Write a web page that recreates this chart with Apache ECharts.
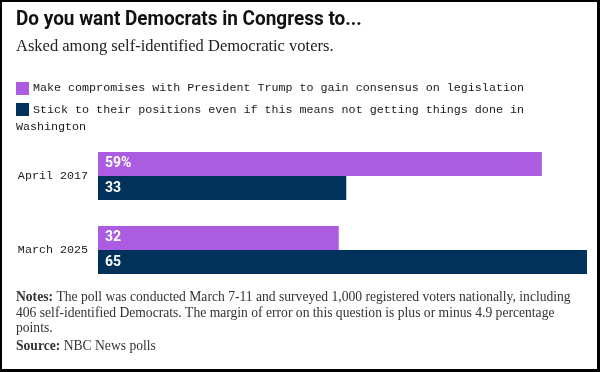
<!DOCTYPE html>
<html>
<head>
<meta charset="utf-8">
<script src="https://cdn.jsdelivr.net/npm/echarts@6/dist/echarts.min.js"></script>
<style>
html,body{margin:0;padding:0;background:#fff;}
#c{width:600px;height:372px;}
</style>
</head>
<body>
<div id="c"></div>
<script>
const titleText = 'Do you want Democrats in Congress to...';
const subtitleText = 'Asked among self-identified Democratic voters.';
const categories = ['April 2017', 'March 2025'];
const seriesNames = [
  'Make compromises with President Trump to gain consensus on legislation',
  'Stick to their positions even if this means not getting things done in\nWashington'
];
const compromiseValues = [59, 32];
const stickValues = [33, 65];
const notesLines = [
  'The poll was conducted March 7-11 and surveyed 1,000 registered voters nationally, including',
  '406 self-identified Democrats. The margin of error on this question is plus or minus 4.9 percentage',
  'points.'
];
const sourceText = 'NBC News polls';

const PURPLE = '#AB5CE0';
const NAVY = '#00325B';
const MONO = '"Liberation Mono", "DejaVu Sans Mono", monospace';
const SERIF = '"Liberation Serif", "DejaVu Serif", serif';
const COND = '"Roboto", sans-serif';

const chart = echarts.init(document.getElementById('c'), null, {renderer: 'canvas'});

const graphics = [
  {type: 'text', x: 16, y: 20, scaleX: 0.925, style: {text: titleText, font: 'bold 20.5px ' + COND, fill: '#111', verticalAlign: 'middle'}},
  {type: 'text', x: 16, y: 47, style: {text: subtitleText, font: '16.5px ' + SERIF, fill: '#222', verticalAlign: 'middle'}},
  {type: 'rect', shape: {x: 16, y: 82, width: 13, height: 13}, style: {fill: PURPLE}},
  {type: 'text', x: 33, y: 88, style: {text: seriesNames[0], font: '11.7px ' + MONO, fill: '#1a1a1a', verticalAlign: 'middle'}},
  {type: 'rect', shape: {x: 16, y: 103, width: 13, height: 13}, style: {fill: NAVY}},
  {type: 'text', x: 33, y: 110, style: {text: seriesNames[1].split('\n')[0], font: '11.7px ' + MONO, fill: '#1a1a1a', verticalAlign: 'middle'}},
  {type: 'text', x: 16, y: 127, style: {text: seriesNames[1].split('\n')[1], font: '11.7px ' + MONO, fill: '#1a1a1a', verticalAlign: 'middle'}},
  {type: 'text', x: 16, y: 290, style: {
    text: '{b|Notes:} ' + notesLines[0] + '\n' + notesLines[1] + '\n' + notesLines[2],
    font: '13.6px ' + SERIF, fill: '#333', verticalAlign: 'top', lineHeight: 15.5,
    rich: {b: {fontWeight: 'bold', fontFamily: SERIF, fontSize: 13.6, fill: '#333', lineHeight: 15.5}}
  }},
  {type: 'text', x: 16, y: 346, style: {
    text: '{b|Source:} ' + sourceText,
    font: '13.6px ' + SERIF, fill: '#333', verticalAlign: 'middle',
    rich: {b: {fontWeight: 'bold', fontFamily: SERIF, fontSize: 13.6, fill: '#333'}}
  }},
  {type: 'rect', shape: {x: 0, y: 0, width: 2, height: 372}, style: {fill: '#000'}},
  {type: 'rect', shape: {x: 0, y: 0, width: 600, height: 2}, style: {fill: '#000'}},
  {type: 'rect', shape: {x: 597, y: 0, width: 3, height: 372}, style: {fill: '#000'}},
  {type: 'rect', shape: {x: 0, y: 369, width: 600, height: 3}, style: {fill: '#000'}}
];

function labelFmt(p) {
  return (p.seriesIndex === 0 && p.dataIndex === 0) ? p.value + '%' : String(p.value);
}
const barLabel = {
  show: true, position: 'insideLeft', distance: 7, color: '#fff',
  fontFamily: COND, fontWeight: 'bold', fontSize: 14, formatter: labelFmt
};

chart.setOption({
  animation: false,
  graphic: graphics,
  grid: {left: 98, right: 13, top: 139, height: 148, containLabel: false},
  xAxis: {type: 'value', min: 0, max: 65, show: false},
  yAxis: {
    type: 'category', data: categories, inverse: true,
    axisLine: {show: false}, axisTick: {show: false},
    axisLabel: {fontFamily: MONO, fontSize: 11.7, color: '#1a1a1a', margin: 10}
  },
  series: [
    {name: seriesNames[0], type: 'bar', data: compromiseValues, barGap: '0%', barCategoryGap: '35%',
     itemStyle: {color: PURPLE}, label: barLabel},
    {name: seriesNames[1], type: 'bar', data: stickValues, barGap: '0%', barCategoryGap: '35%',
     itemStyle: {color: NAVY}, label: barLabel}
  ]
});
</script>
</body>
</html>
